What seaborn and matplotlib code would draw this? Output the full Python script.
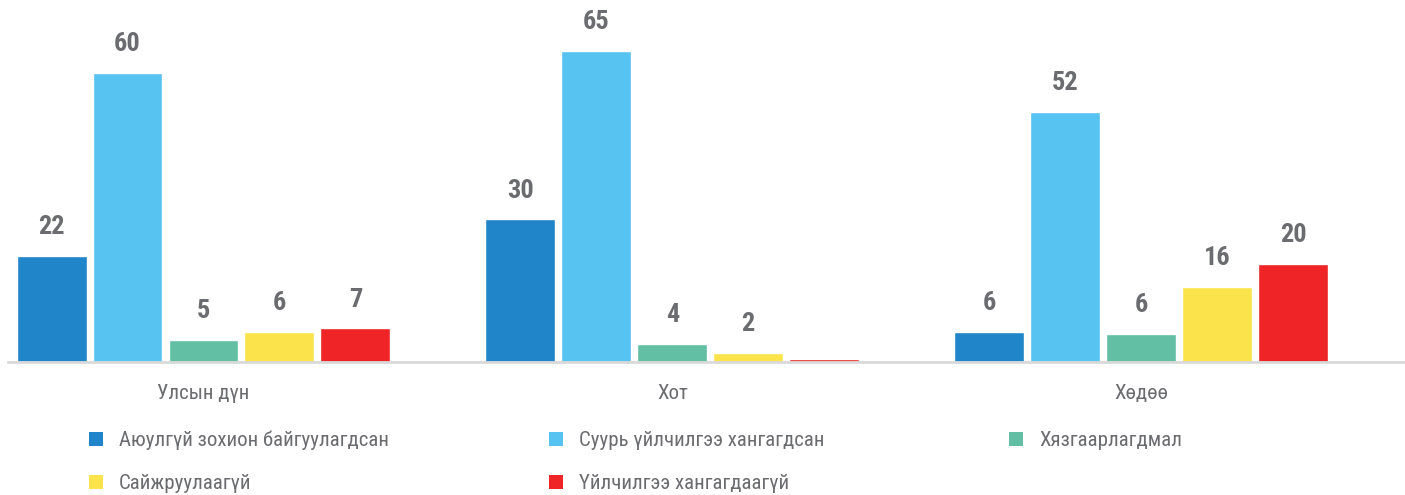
import matplotlib
matplotlib.use("Agg")
import matplotlib.pyplot as plt
from matplotlib import font_manager
from matplotlib.patches import Patch
import seaborn as sns
import pandas as pd

# ---- data ----
regions = ["Улсын дүн", "Хот", "Хөдөө"]
series = ["Аюулгүй зохион байгуулагдсан", "Суурь үйлчилгээ хангагдсан",
          "Хязгаарлагдмал", "Сайжруулаагүй", "Үйлчилгээ хангагдаагүй"]
safe = [22, 29.6, 6.2]
basic = [60, 64.6, 51.9]
limited = [4.6, 3.7, 5.8]
unimproved = [6.2, 1.9, 15.6]
no_service = [7, 0.6, 20.3]
colors = ["#2185c9", "#56c3f0", "#63bfa3", "#fbe44b", "#ee2426"]

values = [safe, basic, limited, unimproved, no_service]
rows = []
for s, vals in zip(series, values):
    for r, v in zip(regions, vals):
        rows.append({"region": r, "type": s, "value": v})
df = pd.DataFrame(rows)

sns.set_theme(style="white")
names = {f.name for f in font_manager.fontManager.ttflist}
fam = "DejaVu Sans"
for cand in ["Roboto Condensed", "Oswald", "Liberation Sans Narrow", "Roboto", "DejaVu Sans"]:
    if cand in names:
        fam = cand
        break
plt.rcParams["font.family"] = [fam, "DejaVu Sans"]
plt.rcParams["font.stretch"] = "condensed"
grey = "#6b6c6f"

fig = plt.figure(figsize=(14.05, 4.95), dpi=100)
ax = fig.add_axes([8 / 1405, 133 / 495, 1 - 8 / 1405, 362 / 495])
sns.barplot(data=df, x="region", y="value", hue="type", hue_order=series,
            order=regions, palette=colors, width=0.81, gap=0.08,
            saturation=1, ax=ax, legend=False)

for cont in ax.containers:
    labels = [f"{b.get_height():.0f}" if b.get_height() >= 1 else "" for b in cont]
    ax.bar_label(cont, labels=labels, padding=12, fontsize=19,
                 fontweight="bold", color=grey)

ax.set_ylim(0, 75.1)
ax.set_xlim(-0.417, 2.563)
ax.set_xlabel("")
ax.set_ylabel("")
ax.set_yticks([])
for sp in ["top", "right", "left"]:
    ax.spines[sp].set_visible(False)
ax.spines["bottom"].set_color("#d9d9d9")
ax.spines["bottom"].set_linewidth(2)
ax.tick_params(axis="x", length=0, pad=16, labelsize=15, labelcolor=grey)

handles = [Patch(facecolor=c, edgecolor="none", label=s) for c, s in zip(colors, series)]
col_x = [89, 549, 1009]
cols = [[0, 3], [1, 4], [2]]
for x, idx in zip(col_x, cols):
    fig.legend([handles[i] for i in idx], [series[i] for i in idx],
               loc="upper left", bbox_to_anchor=(x / 1405, 1 - 431 / 495),
               frameon=False, fontsize=15, labelcolor=grey,
               handlelength=0.65, handleheight=0.65, handletextpad=0.8,
               labelspacing=1.15, borderpad=0, borderaxespad=0)

fig.savefig("out.png", dpi=100, facecolor="white")
